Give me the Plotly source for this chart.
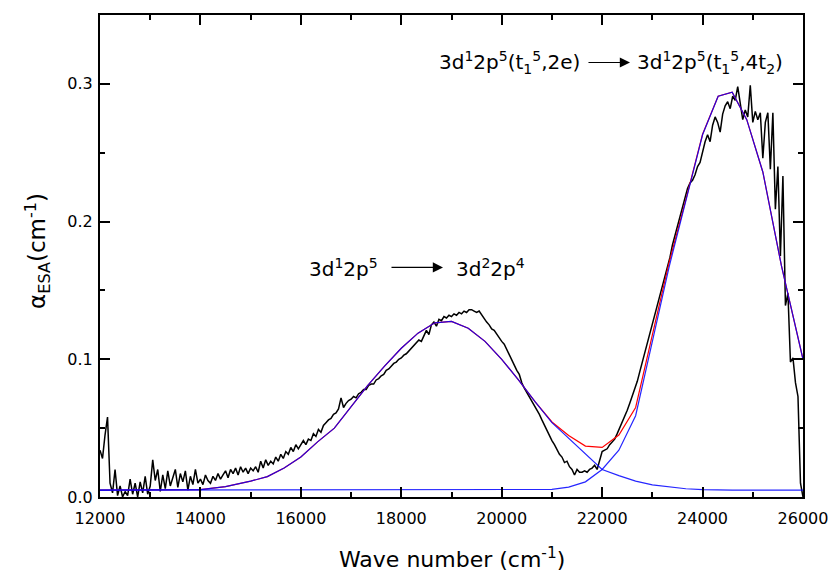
import plotly.graph_objects as go

# ---------------- data ----------------
wn_start, wn_step = 12000, 50
alpha_exp = [
    0.034, 0.028, 0.045, 0.058, 0.010, 0.003, 0.020, 0.001, 0.008, 0.000,
    0.004, 0.001, 0.013, 0.002, 0.010, 0.000, 0.011, 0.003, 0.015, 0.002,
    0.008, 0.027, 0.012, 0.020, 0.004, 0.016, 0.006, 0.019, 0.008, 0.014,
    0.020, 0.007, 0.017, 0.011, 0.019, 0.005, 0.015, 0.009, 0.020, 0.010,
    0.013, 0.009, 0.016, 0.012, 0.010, 0.015, 0.012, 0.017, 0.013, 0.016,
    0.019, 0.014, 0.020, 0.017, 0.021, 0.016, 0.022, 0.018, 0.021, 0.017,
    0.021, 0.019, 0.022, 0.018, 0.026, 0.021, 0.027, 0.023, 0.026, 0.024,
    0.029, 0.026, 0.031, 0.028, 0.033, 0.031, 0.036, 0.033, 0.038, 0.035,
    0.038, 0.041, 0.038, 0.042, 0.041, 0.046, 0.044, 0.049, 0.047, 0.052,
    0.054, 0.056, 0.057, 0.060, 0.061, 0.064, 0.072, 0.065, 0.068, 0.070,
    0.071, 0.073, 0.072, 0.075, 0.076, 0.078, 0.078, 0.081, 0.082, 0.082,
    0.085, 0.086, 0.088, 0.089, 0.092, 0.093, 0.095, 0.097, 0.098, 0.100,
    0.101, 0.103, 0.104, 0.106, 0.108, 0.110, 0.112, 0.114, 0.113, 0.117,
    0.121, 0.118, 0.125, 0.127, 0.124, 0.129, 0.128, 0.131, 0.130, 0.132,
    0.131, 0.133, 0.132, 0.134, 0.133, 0.135, 0.134, 0.136, 0.136, 0.135,
    0.134, 0.135, 0.132, 0.130, 0.127, 0.125, 0.122, 0.121, 0.118, 0.116,
    0.113, 0.111, 0.107, 0.104, 0.100, 0.096, 0.092, 0.089, 0.083, 0.079,
    0.076, 0.072, 0.069, 0.066, 0.063, 0.060, 0.056, 0.052, 0.049, 0.045,
    0.041, 0.038, 0.034, 0.031, 0.029, 0.025, 0.026, 0.022, 0.020, 0.016,
    0.020, 0.018, 0.018, 0.019, 0.018, 0.020, 0.021, 0.023, 0.020, 0.026,
    0.033, 0.034, 0.035, 0.038, 0.040, 0.042, 0.046, 0.050, 0.054, 0.058,
    0.063, 0.068, 0.073, 0.078, 0.084, 0.091, 0.098, 0.104, 0.111, 0.118,
    0.125, 0.131, 0.139, 0.146, 0.154, 0.161, 0.167, 0.174, 0.183, 0.190,
    0.198, 0.205, 0.212, 0.218, 0.224, 0.228, 0.230, 0.234, 0.240, 0.243,
    0.251, 0.258, 0.263, 0.258, 0.270, 0.276, 0.272, 0.265, 0.278, 0.284,
    0.287, 0.282, 0.291, 0.288, 0.298, 0.285, 0.274, 0.281, 0.276, 0.299,
    0.272, 0.280, 0.274, 0.279, 0.246, 0.272, 0.279, 0.238, 0.279, 0.209,
    0.240, 0.175, 0.233, 0.139, 0.148, 0.098, 0.101, 0.083, 0.073, 0.010,
    0.000,
]
wn_exp = [wn_start + wn_step * i for i in range(len(alpha_exp))]

wn_fit = [12000, 12500, 13000, 13500, 14000, 14500, 15000, 15333, 15667, 16000,
          16333, 16667, 17000, 17333, 17667, 18000, 18333, 18667, 19000, 19333,
          19667, 20000, 20333, 20667, 21000, 21333, 21667, 22000, 22333, 22667,
          23000, 23333, 23667, 24000, 24310, 24590, 24880, 25200, 25570, 26000]
band1 = [0.005, 0.005, 0.005, 0.005, 0.0053, 0.0075, 0.0115, 0.0148, 0.021, 0.029,
         0.040, 0.050, 0.0655, 0.081, 0.095, 0.108, 0.119, 0.1265, 0.1275, 0.1225,
         0.113, 0.100, 0.085, 0.069, 0.054, 0.0425, 0.031, 0.020, 0.0155, 0.0115,
         0.0088, 0.0072, 0.006, 0.0054, 0.005, 0.005, 0.005, 0.005, 0.005, 0.005]
band2 = [0.005, 0.005, 0.005, 0.005, 0.005, 0.005, 0.005, 0.005, 0.005, 0.005,
         0.005, 0.005, 0.005, 0.005, 0.005, 0.005, 0.005, 0.005, 0.005, 0.005,
         0.005, 0.005, 0.005, 0.005, 0.0055, 0.0072, 0.011, 0.020, 0.034, 0.059,
         0.114, 0.167, 0.215, 0.263, 0.291, 0.294, 0.274, 0.236, 0.168, 0.100]
fit_sum = [0.005, 0.005, 0.005, 0.005, 0.0053, 0.0075, 0.0115, 0.0148, 0.021, 0.029,
           0.040, 0.050, 0.0655, 0.081, 0.095, 0.108, 0.119, 0.1265, 0.1275, 0.1225,
           0.113, 0.100, 0.085, 0.069, 0.0545, 0.0447, 0.037, 0.036, 0.0450, 0.0650,
           0.1178, 0.1702, 0.216, 0.2634, 0.291, 0.294, 0.274, 0.236, 0.168, 0.100]

x_ticks = [12000, 14000, 16000, 18000, 20000, 22000, 24000, 26000]
x_tick_labels = ["12000", "14000", "16000", "18000", "20000", "22000", "24000", "26000"]
y_ticks = [0.0, 0.1, 0.2, 0.3]
y_tick_labels = ["0.0", "0.1", "0.2", "0.3"]

FONT = "DejaVu Sans"

fig = go.Figure()
fig.add_trace(go.Scatter(x=wn_exp, y=alpha_exp, mode="lines",
                         line=dict(color="black", width=1.5), showlegend=False))
fig.add_trace(go.Scatter(x=wn_fit, y=fit_sum, mode="lines",
                         line=dict(color="#ff0000", width=1.2), showlegend=False))
fig.add_trace(go.Scatter(x=wn_fit, y=band1, mode="lines", opacity=0.85,
                         line=dict(color="#0000ff", width=1.2), showlegend=False))
fig.add_trace(go.Scatter(x=wn_fit, y=band2, mode="lines", opacity=0.85,
                         line=dict(color="#0000ff", width=1.2), showlegend=False))

axis_common = dict(showline=True, linecolor="black", linewidth=2, mirror="ticks",
                   ticks="inside", ticklen=10, tickwidth=1.5, tickcolor="black",
                   showgrid=False, zeroline=False, automargin=False,
                   tickfont=dict(family=FONT, size=16, color="black"))

fig.update_xaxes(range=[12000, 26000], tickvals=x_ticks, ticktext=x_tick_labels,
                 ticklabelstandoff=6,
                 minor=dict(dtick=1000, ticks="inside", ticklen=5, tickwidth=1.5,
                            tickcolor="black", showgrid=False),
                 **axis_common)
fig.update_yaxes(range=[0, 0.35], tickvals=y_ticks, ticktext=y_tick_labels,
                 ticklabelstandoff=2,
                 minor=dict(dtick=0.05, ticks="inside", ticklen=5, tickwidth=1.5,
                            tickcolor="black", showgrid=False),
                 **axis_common)

ann_font = dict(family=FONT, size=20, color="black")
annotations = [
    dict(x=17576, y=0.166, xref="x", yref="y", text="3d<sup>1</sup>2p<sup>5</sup>",
         showarrow=False, xanchor="right", yanchor="middle", font=ann_font),
    dict(x=19050, y=0.166, xref="x", yref="y", text="3d<sup>2</sup>2p<sup>4</sup>",
         showarrow=False, xanchor="left", yanchor="middle", font=ann_font),
    dict(x=18831, y=0.1667, ax=17775, ay=0.1667, xref="x", yref="y", axref="x", ayref="y",
         text="", showarrow=True, arrowhead=2, arrowsize=1.7, arrowwidth=1.2, arrowcolor="black"),
    dict(x=21599, y=0.3155, xref="x", yref="y",
         text="3d<sup>1</sup>2p<sup>5</sup>(t<sub>1</sub><sup>5</sup>,2e)",
         showarrow=False, xanchor="right", yanchor="middle", font=ann_font),
    dict(x=22655, y=0.3155, xref="x", yref="y",
         text="3d<sup>1</sup>2p<sup>5</sup>(t<sub>1</sub><sup>5</sup>,4t<sub>2</sub>)",
         showarrow=False, xanchor="left", yanchor="middle", font=ann_font),
    dict(x=22555, y=0.3155, ax=21698, ay=0.3155, xref="x", yref="y", axref="x", ayref="y",
         text="", showarrow=True, arrowhead=2, arrowsize=1.7, arrowwidth=1.2, arrowcolor="black"),
    dict(x=0.5, y=-0.127, xref="paper", yref="paper", text="Wave number (cm<sup>-1</sup>)",
         showarrow=False, xanchor="center", yanchor="middle",
         font=dict(family=FONT, size=22, color="black")),
    dict(x=-0.09, y=0.51, xref="paper", yref="paper",
         text="α<sub>ESA</sub>(cm<sup>-1</sup>)", textangle=-90,
         showarrow=False, xanchor="center", yanchor="middle",
         font=dict(family=FONT, size=23, color="black")),
]

fig.update_layout(width=831, height=571,
                  margin=dict(l=100, r=28, t=15, b=74, autoexpand=False),
                  paper_bgcolor="white", plot_bgcolor="white",
                  annotations=annotations, showlegend=False)

fig.write_html("out.html", config={"displayModeBar": False},
               post_script="document.body.style.margin='0';document.body.style.overflow='hidden';")
